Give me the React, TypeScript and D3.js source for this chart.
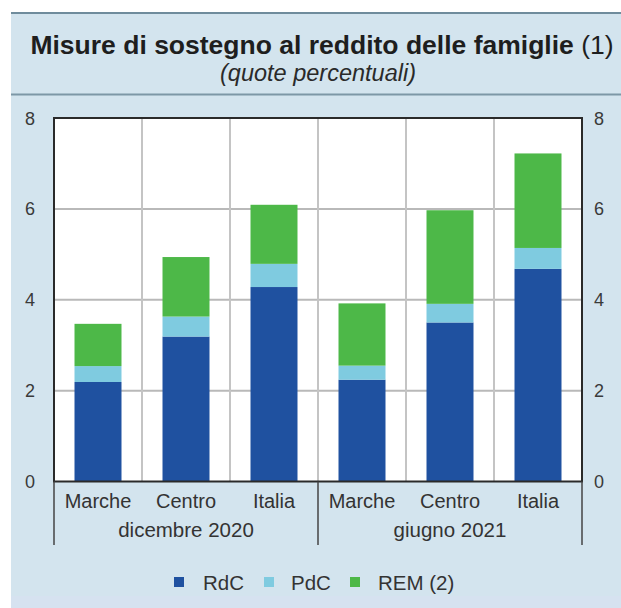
import React from "react";
import * as d3 from "d3";

const categories = ["Marche", "Centro", "Italia", "Marche", "Centro", "Italia"];
const groups = ["dicembre 2020", "giugno 2021"];
const seriesNames = ["RdC", "PdC", "REM (2)"];
const rdc = [2.19, 3.19, 4.28, 2.24, 3.5, 4.68];
const pdc = [0.35, 0.44, 0.51, 0.31, 0.41, 0.46];
const rem = [0.93, 1.31, 1.3, 1.37, 2.06, 2.08];
const yTicks = [0, 2, 4, 6, 8];
const colors = ["#1f51a0", "#7fcbe0", "#4db848"];

const W = 621;
const H = 608;
const M = { left: 54, right: 582, top: 118, bottom: 481.5 };
const FONT = "'Liberation Sans', Arial, sans-serif";

export default function App() {
  const idx = categories.map((_, i) => i);
  const x = d3.scaleBand<number>().domain(idx).range([M.left, M.right]).paddingInner(0.466).paddingOuter(0.233);
  const xOuter = d3.scaleBand<number>().domain(idx).range([M.left, M.right]);
  const y = d3.scaleLinear().domain([0, 8]).range([M.bottom, M.top]);
  const table = idx.map((i) => ({ i, s0: rdc[i], s1: pdc[i], s2: rem[i] }));
  const stack = d3.stack<any>().keys(["s0", "s1", "s2"])(table);
  const groupX = d3.scaleBand<number>().domain([0, 1]).range([M.left, M.right]);

  const legendItems = [
    { sx: 174, tx: 203 },
    { sx: 264, tx: 291 },
    { sx: 350, tx: 378 },
  ];

  return (
    <div style={{ position: "absolute", left: 0, top: 0 }}>
      <svg width={W} height={H} style={{ display: "block" }} fontFamily={FONT}>
        <rect x={0} y={0} width={W} height={H} fill="#ffffff" />
        <rect x={11} y={12} width={W - 11} height={H - 12} fill="#d3e4ee" />
        <rect x={11} y={596} width={W - 11} height={12} fill="#d6e2f0" />
        <line x1={11} x2={W} y1={13} y2={13} stroke="#6f8c9c" strokeWidth={2} />
        <line x1={11} x2={W} y1={94.5} y2={94.5} stroke="#7d97a6" strokeWidth={2} />
        <text x={322} y={54} textAnchor="middle" fontSize={26.5} fill="#1e1e1e">
          <tspan fontWeight="bold">Misure di sostegno al reddito delle famiglie</tspan>
          <tspan> (1)</tspan>
        </text>
        <text x={318} y={81} textAnchor="middle" fontSize={23.5} fontStyle="italic" fill="#2a2a2a">
          (quote percentuali)
        </text>

        <rect x={M.left} y={M.top} width={M.right - M.left} height={M.bottom - M.top} fill="#ffffff" />
        {yTicks.slice(1, -1).map((t) => (
          <line key={"g" + t} x1={M.left} x2={M.right} y1={y(t)} y2={y(t)} stroke="#b9b9b9" strokeWidth={2} />
        ))}
        {idx.slice(1).map((i) => (
          <line key={"v" + i} x1={xOuter(i)!} x2={xOuter(i)!} y1={M.top} y2={M.bottom} stroke="#c4c4c4" strokeWidth={2} />
        ))}

        {stack.map((layer, si) =>
          layer.map((d, i) => (
            <rect
              key={si + "-" + i}
              x={x(i)!}
              width={x.bandwidth()}
              y={y(d[1])}
              height={y(d[0]) - y(d[1])}
              fill={colors[si]}
            />
          ))
        )}

        <rect x={M.left} y={M.top} width={M.right - M.left} height={M.bottom - M.top} fill="none" stroke="#2a2a2a" strokeWidth={2} />

        {yTicks.map((t) => (
          <g key={"t" + t} fontSize={18} fill="#3a3a3a">
            <text x={30} y={y(t) + 6.5} textAnchor="middle">{t}</text>
            <text x={599} y={y(t) + 6.5} textAnchor="middle">{t}</text>
          </g>
        ))}

        {categories.map((c, i) => (
          <text key={"c" + i} x={xOuter(i)! + xOuter.bandwidth() / 2} y={508} textAnchor="middle" fontSize={20} fill="#333">
            {c}
          </text>
        ))}
        {groups.map((g, gi) => (
          <text key={"gr" + gi} x={groupX(gi)! + groupX.bandwidth() / 2} y={537} textAnchor="middle" fontSize={20.5} fill="#333">
            {g}
          </text>
        ))}
        {[0, 1, 2].map((k) => {
          const gx = k === 2 ? M.right : groupX(k)!;
          return <line key={"sep" + k} x1={gx} x2={gx} y1={M.bottom} y2={545} stroke="#444" strokeWidth={1.5} />;
        })}

        {seriesNames.map((s, si) => (
          <g key={"l" + si}>
            <rect x={legendItems[si].sx} y={577} width={10} height={10} fill={colors[si]} />
            <text x={legendItems[si].tx} y={590} fontSize={20.5} fill="#333">{s}</text>
          </g>
        ))}
      </svg>
    </div>
  );
}
